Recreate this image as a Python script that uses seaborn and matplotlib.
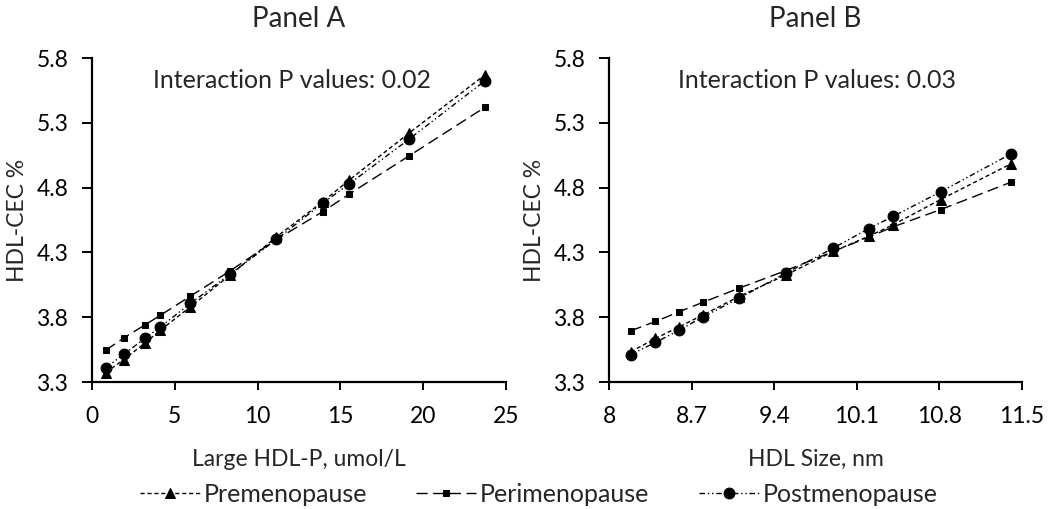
import pandas as pd
import matplotlib.pyplot as plt
import seaborn as sns

# Dữ liệu
groups = ["Premenopause", "Perimenopause", "Postmenopause"]

# Panel A: Large HDL-P
large_hdlp = [0.83, 1.92, 3.23, 4.13, 5.94, 8.34, 11.14, 13.92, 15.53, 19.14, 23.73]
cec_a_pre = [3.373, 3.473, 3.604, 3.700, 3.880, 4.125, 4.420, 4.690, 4.858, 5.220, 5.670]
cec_a_peri = [3.545, 3.640, 3.743, 3.815, 3.962, 4.157, 4.400, 4.613, 4.750, 5.044, 5.420]
cec_a_post = [3.410, 3.514, 3.640, 3.725, 3.906, 4.132, 4.400, 4.679, 4.828, 5.173, 5.624]

# Panel B: HDL size
hdl_size = [8.184, 8.394, 8.595, 8.793, 9.10, 9.50, 9.90, 10.20, 10.41, 10.81, 11.41]
cec_b_pre = [3.533, 3.636, 3.726, 3.816, 3.959, 4.126, 4.307, 4.424, 4.514, 4.708, 4.985]
cec_b_peri = [3.695, 3.767, 3.842, 3.914, 4.023, 4.160, 4.307, 4.418, 4.498, 4.630, 4.843]
cec_b_post = [3.512, 3.605, 3.700, 3.800, 3.946, 4.140, 4.333, 4.483, 4.579, 4.767, 5.062]

y_ticks = [3.3, 3.8, 4.3, 4.8, 5.3, 5.8]
x_ticks_a = [0, 5, 10, 15, 20, 25]
x_ticks_b = [8, 8.7, 9.4, 10.1, 10.8, 11.5]


def to_long(x, series):
    rows = []
    for g, vals in zip(groups, series):
        for xi, yi in zip(x, vals):
            rows.append({"x": xi, "y": yi, "group": g})
    return pd.DataFrame(rows)


df_a = to_long(large_hdlp, [cec_a_pre, cec_a_peri, cec_a_post])
df_b = to_long(hdl_size, [cec_b_pre, cec_b_peri, cec_b_post])

sns.set_style("ticks")
plt.rcParams["font.family"] = ["Lato", "DejaVu Sans"]

dashes = {"Premenopause": (3, 2), "Perimenopause": (8, 4), "Postmenopause": (4, 2, 1, 2, 1, 2)}
markers = {"Premenopause": "^", "Perimenopause": "s", "Postmenopause": "o"}
marker_sizes = {"^": 7.5, "s": 5.0, "o": 7.8}
palette = {g: "black" for g in groups}

fig = plt.figure(figsize=(10.5, 5.09), dpi=100)
ax_a = fig.add_axes([92 / 1050, 1 - 382 / 509, 414 / 1050, 324 / 509])
ax_b = fig.add_axes([609 / 1050, 1 - 382 / 509, 413 / 1050, 324 / 509])

panels = [
    (ax_a, df_a, "Panel A", "Large HDL-P, umol/L", x_ticks_a, "Interaction P values: 0.02", 0.147),
    (ax_b, df_b, "Panel B", "HDL Size, nm", x_ticks_b, "Interaction P values: 0.03", 0.167),
]

for ax, df, title, xlabel, xt, note, note_x in panels:
    sns.lineplot(data=df, x="x", y="y", hue="group", style="group", palette=palette,
                 dashes=dashes, markers=markers, markeredgecolor="black",
                 linewidth=1.0, ax=ax, legend=True)
    for line in ax.lines:
        m = line.get_marker()
        if m in marker_sizes:
            line.set_markersize(marker_sizes[m])
    ax.set_xlim(xt[0], xt[-1])
    ax.set_ylim(3.3, 5.8)
    ax.set_xticks(xt)
    ax.set_xticklabels([f"{t:g}" for t in xt])
    ax.set_yticks(y_ticks)
    ax.set_yticklabels([f"{t:.1f}" for t in y_ticks])
    ax.tick_params(labelsize=16.5, width=1.4, color="black", labelcolor="black")
    ax.tick_params(axis="y", length=7, pad=10)
    ax.tick_params(axis="x", length=6, pad=11)
    for s in ["left", "bottom"]:
        ax.spines[s].set_linewidth(1.6)
        ax.spines[s].set_color("black")
    sns.despine(ax=ax)
    ax.set_title(title, fontsize=20, pad=22)
    ax.set_xlabel(xlabel, fontsize=16.5, labelpad=16)
    ax.set_ylabel("HDL-CEC %", fontsize=16.5, labelpad=6)
    ax.text(note_x, 0.932, note, transform=ax.transAxes, fontsize=18, va="center", ha="left")

handles, labels = ax_a.get_legend_handles_labels()
for h in handles:
    m = h.get_marker()
    if m in marker_sizes:
        h.set_markersize(marker_sizes[m])
ax_a.get_legend().remove()
ax_b.get_legend().remove()
fig.legend(handles, labels, loc="center", bbox_to_anchor=(0.513, 1 - 494 / 509),
           ncol=3, frameon=False, fontsize=18, handlelength=2.4, columnspacing=1.96,
           handletextpad=0.16)

fig.savefig("out.png", dpi=100)
